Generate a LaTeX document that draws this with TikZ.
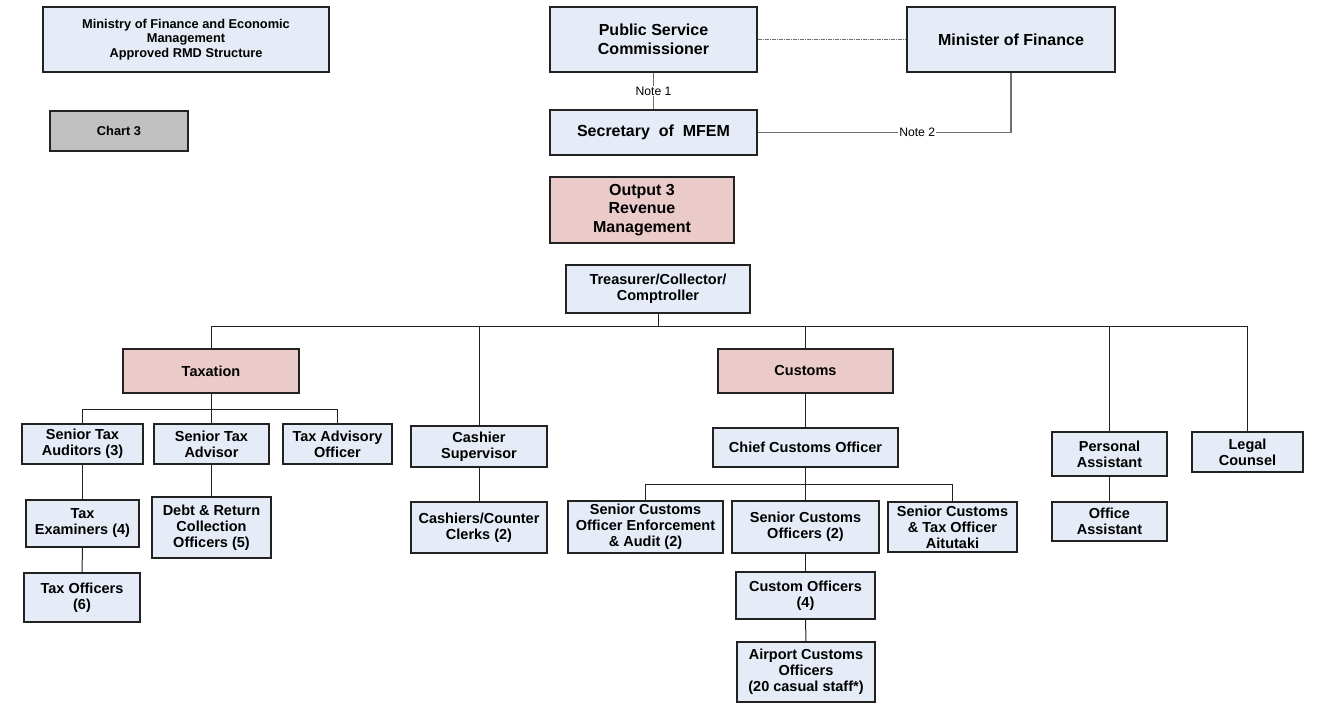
\documentclass[tikz,border=0pt]{standalone}
\usepackage{fontspec}
\setmainfont{Liberation Sans}
\definecolor{boxblue}{HTML}{E6ECF7}
\definecolor{boxpink}{HTML}{EBCACA}
\definecolor{boxgray}{HTML}{C0C0C0}
\definecolor{linegray}{HTML}{707070}
\definecolor{edgecol}{HTML}{222222}

% box given by its corners: style, name, x1, y1, x2, y2, text
\newcommand\orgbox[7]{%
  \node[#1, minimum width={#5pt-#3pt}, minimum height={#6pt-#4pt}]
    (#2) at ({(#3+#5)/2},{(#4+#6)/2}) {#7};}

\begin{document}
\begin{tikzpicture}[x=1pt,y=-1pt,
  unit/.style={draw=edgecol, line width=1.1pt, inner sep=0pt, align=center,
    fill=boxblue, font=\bfseries\fontsize{14.5}{16}\selectfont},
  headunit/.style={unit, font=\bfseries\fontsize{16}{18.5}\selectfont},
  division/.style={unit, fill=boxpink},
  titlebox/.style={unit, font=\bfseries\fontsize{12.8}{14.5}\selectfont},
  chartbox/.style={titlebox, fill=boxgray},
  conn/.style={draw=edgecol, line width=1pt},
  noteline/.style={draw=linegray, line width=1.6pt},
  notelabel/.style={font=\fontsize{12.2}{14}\selectfont, fill=white, inner sep=1pt},
  liaison/.style={draw=linegray, line width=0.8pt, dash pattern=on 4pt off 1pt on 1pt off 1pt}]

\useasboundingbox (0,0) rectangle (1320,706);

% title and chart label
\orgbox{titlebox}{title}{43}{7}{329}{72}{Ministry of Finance and Economic\\Management\\Approved RMD Structure}
\orgbox{chartbox}{chart}{50}{111}{188}{151}{Chart 3}

% top level
\orgbox{headunit}{psc}{550}{7}{757}{72}{Public Service\\Commissioner}
\orgbox{headunit}{mof}{907}{7}{1115}{72}{Minister of Finance}
\orgbox{headunit}{sec}{550}{110}{757}{155}{Secretary\ \ of\ \ MFEM}
\orgbox{headunit, fill=boxpink}{out}{550}{177}{734}{243}{Output 3\\Revenue\\Management}
\orgbox{unit}{tres}{566}{265}{750}{313}{Treasurer/Collector/\\Comptroller}

% taxation
\orgbox{division}{tax}{123}{349}{299}{393}{Taxation}
\orgbox{unit}{sta}{22}{424}{143}{464}{Senior Tax\\Auditors (3)}
\orgbox{unit}{stadv}{154}{424}{269}{464}{Senior Tax\\Advisor}
\orgbox{unit}{tao}{283}{424}{392}{464}{Tax Advisory\\Officer}
\orgbox{unit}{tex}{26}{500}{139}{547}{Tax\\Examiners (4)}
\orgbox{unit}{tof}{24}{573}{140}{622}{Tax Officers\\(6)}
\orgbox{unit}{debt}{152}{497}{271}{558}{Debt \& Return\\Collection\\Officers (5)}

% cashiers
\orgbox{unit}{cashsup}{411}{426}{547}{467}{Cashier\\Supervisor}
\orgbox{unit}{cashiers}{411}{502}{547}{553}{Cashiers/Counter\\Clerks (2)}

% customs
\orgbox{division}{cust}{718}{349}{893}{393}{Customs}
\orgbox{unit}{chief}{713}{428}{898}{467}{Chief Customs Officer}
\orgbox{unit}{scoea}{568}{501}{723}{553}{Senior Customs\\Officer Enforcement\\\& Audit (2)}
\orgbox{unit}{sco}{732}{501}{879}{553}{Senior Customs\\Officers (2)}
\orgbox{unit}{ait}{888}{502}{1017}{552}{Senior Customs\\\& Tax Officer\\Aitutaki}
\orgbox{unit}{co}{736}{572}{875}{619}{Custom Officers\\(4)}
\orgbox{unit}{air}{737}{642}{875}{702}{Airport Customs\\Officers\\(20 casual staff*)}

% office and legal
\orgbox{unit}{pa}{1052}{432}{1167}{476}{Personal\\Assistant}
\orgbox{unit}{oa}{1052}{502}{1167}{541}{Office\\Assistant}
\orgbox{unit}{legal}{1192}{432}{1303}{472}{Legal\\Counsel}

% top-level relations
\draw[liaison] (psc.east) -- (mof.west);
\draw[noteline] (psc.south) -- node[notelabel]{Note 1} (sec.north);
\draw[noteline] (sec.east) -- node[notelabel, pos=0.63]{Note 2} (sec.east -| mof.south) -- (mof.south);

% main bus
\coordinate (busmain) at (0,326);
\draw[conn] (tres.south) -- (tres.south |- busmain);
\draw[conn] (tax.north) -- (tax.north |- busmain) -- (legal.north |- busmain) -- (legal.north);
\draw[conn] (cashsup.north) -- (cashsup.north |- busmain);
\draw[conn] (cust.north) -- (cust.north |- busmain);
\draw[conn] (pa.north) -- (pa.north |- busmain);

% taxation branch
\coordinate (bustax) at (0,409);
\draw[conn] (tax.south) -- (tax.south |- bustax);
\draw[conn] (sta.north) -- (sta.north |- bustax) -- (tao.north |- bustax) -- (tao.north);
\draw[conn] (stadv.north) -- (stadv.north |- bustax);
\draw[conn] (sta.south) -- (tex.north);
\draw[conn] (tex.south) -- (tof.north);
\draw[conn] (stadv.south) -- (debt.north);

% cashier branch
\draw[conn] (cashsup.south) -- (cashiers.north);

% customs branch
\coordinate (buscust) at (0,484);
\draw[conn] (cust.south) -- (chief.north);
\draw[conn] (chief.south) -- (chief.south |- buscust);
\draw[conn] (scoea.north) -- (scoea.north |- buscust) -- (ait.north |- buscust) -- (ait.north);
\draw[conn] (sco.north) -- (sco.north |- buscust);
\draw[conn] (sco.south) -- (co.north);
\draw[conn] (co.south) -- (air.north);

% office branch
\draw[conn] (pa.south) -- (oa.north);
\end{tikzpicture}
\end{document}
